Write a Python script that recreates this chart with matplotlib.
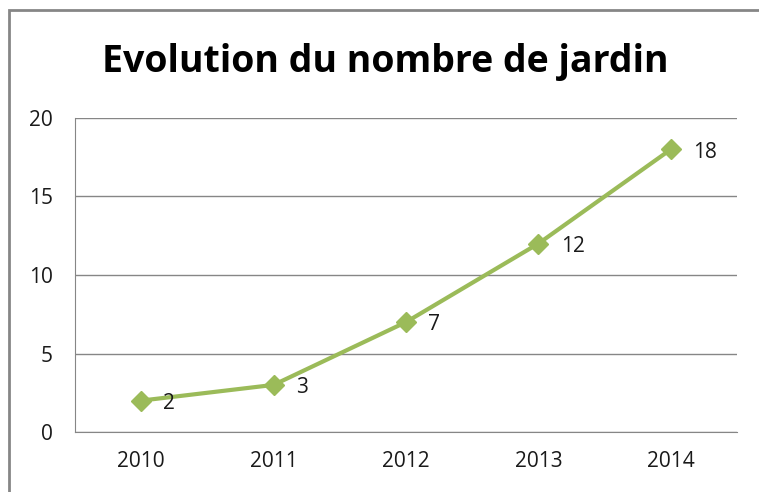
import matplotlib.pyplot as plt
import matplotlib.patches as mpatches

years = ['2010', '2011', '2012', '2013', '2014']
jardins = [2, 3, 7, 12, 18]
y_ticks = [0, 5, 10, 15, 20]

plt.rcParams['font.family'] = ['Open Sans', 'DejaVu Sans']

fig = plt.figure(figsize=(7.59, 4.92), dpi=100)

# chart border (cropped on the right and bottom in the reference)
border = mpatches.Rectangle((9 / 759, -0.1), 1.1, 1 - 10 / 492 + 0.1,
                            transform=fig.transFigure, fill=False,
                            edgecolor='#868686', linewidth=2)
fig.patches.append(border)

ax = fig.add_axes([75 / 759, 60 / 492, 662 / 759, 314 / 492])

x = range(len(years))
ax.plot(x, jardins, color='#9BBB59', linewidth=3, marker='D',
        markersize=10, zorder=3)

for xi, v in zip(x, jardins):
    ax.annotate(str(v), (xi, v), xytext=(16, -2), textcoords='offset points',
                va='center', ha='left', fontsize=15, color='#1a1a1a')

ax.set_xlim(-0.5, len(years) - 0.5)
ax.set_ylim(0, 20)
ax.set_yticks(y_ticks)
ax.set_xticks(list(x))
ax.set_xticklabels(years)
ax.tick_params(axis='both', length=0, labelsize=15, colors='#1a1a1a')
ax.tick_params(axis='x', pad=14)
ax.tick_params(axis='y', pad=16)
ax.grid(axis='y', color='#868686', linewidth=1)
ax.set_axisbelow(True)
for side in ['top', 'right']:
    ax.spines[side].set_visible(False)
for side in ['left', 'bottom']:
    ax.spines[side].set_color('#868686')

fig.text(385 / 759, 1 - 62 / 492, 'Evolution du nombre de jardin',
         ha='center', va='center', fontsize=27, fontweight='bold')

fig.savefig('out.png', dpi=100)
